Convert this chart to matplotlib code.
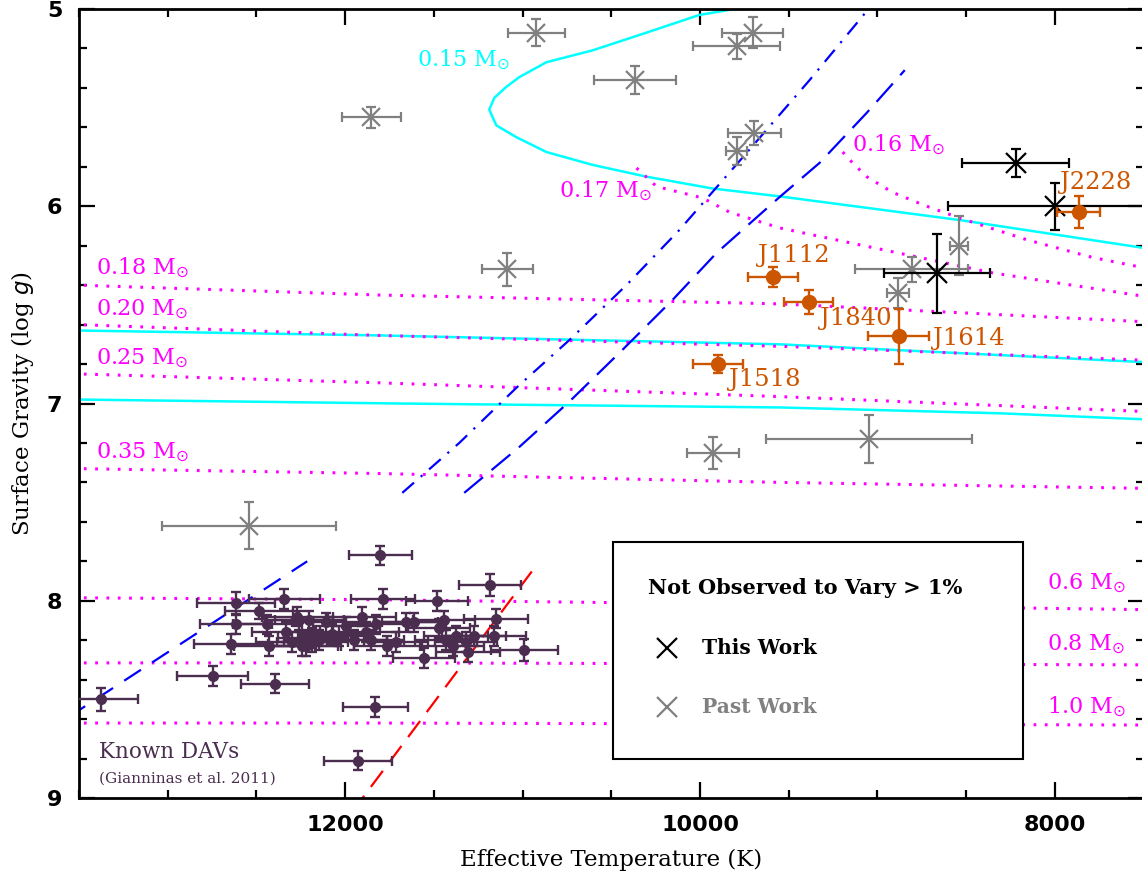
import matplotlib
matplotlib.use("Agg")
import matplotlib.pyplot as plt
from matplotlib.patches import Rectangle
from matplotlib.ticker import MultipleLocator

# ---- data ----
# known DAVs (Gianninas et al. 2011)
dav_teff = [13377, 12745, 12395, 12615, 12485, 12344, 12615, 12643, 12271, 12440,
            12429, 12333, 12300, 12220, 12186, 11803, 11182, 11786, 11481, 11148,
            10990, 11554, 11306, 11831, 11927, 11272, 11441, 11470, 11611, 11904,
            11763, 11712, 11430, 11374, 11318, 11994, 12107, 12203, 12260, 11949,
            12073, 12186, 11882, 11825, 11656, 12243, 12147, 12034, 11853, 11391, 11160]
dav_logg = [8.50, 8.38, 8.42, 8.01, 8.05, 7.99, 8.12, 8.22, 8.08, 8.12,
            8.23, 8.16, 8.21, 8.23, 8.19, 7.77, 7.92, 7.99, 8.00, 8.09,
            8.25, 8.29, 8.26, 8.54, 8.81, 8.18, 8.10, 8.14, 8.11, 8.08,
            8.23, 8.21, 8.20, 8.18, 8.21, 8.13, 8.11, 8.10, 8.10, 8.20,
            8.17, 8.21, 8.16, 8.12, 8.11, 8.23, 8.20, 8.18, 8.20, 8.23, 8.18]
dav_teff_err = [210, 200, 190, 220, 190, 200, 205, 210, 200, 195,
                200, 190, 200, 195, 190, 178, 175, 181, 175, 180,
                190, 175, 180, 183, 190, 180, 175, 175, 180, 190,
                185, 180, 175, 180, 175, 190, 195, 195, 190, 185,
                195, 200, 185, 185, 180, 200, 195, 190, 185, 175, 180]
dav_logg_err = [0.06, 0.05, 0.05, 0.055, 0.04, 0.05, 0.05, 0.05, 0.05, 0.05,
                0.05, 0.05, 0.05, 0.05, 0.05, 0.05, 0.055, 0.05, 0.05, 0.05,
                0.055, 0.05, 0.05, 0.05, 0.05, 0.05, 0.05, 0.05, 0.05, 0.05,
                0.05, 0.05, 0.05, 0.05, 0.05, 0.05, 0.05, 0.05, 0.05, 0.05,
                0.05, 0.05, 0.05, 0.05, 0.05, 0.05, 0.05, 0.05, 0.05, 0.05, 0.05]

# past work (not observed to vary)
past_teff = [11853, 10922, 10364, 9704, 9794, 9693, 9794, 11086, 12542, 9929, 9049, 8542, 8807, 8886]
past_logg = [5.55, 5.12, 5.36, 5.12, 5.19, 5.63, 5.72, 6.32, 7.62, 7.25, 7.18, 6.20, 6.32, 6.44]
past_teff_err = [166, 163, 231, 170, 245, 152, 60, 144, 490, 147, 581, 50, 320, 62]
past_logg_err = [0.053, 0.07, 0.07, 0.08, 0.065, 0.06, 0.07, 0.084, 0.12, 0.08, 0.12, 0.15, 0.065, 0.075]

# this work (not observed to vary)
this_teff = [8220, 8000, 8666]
this_logg = [5.78, 6.00, 6.34]
this_teff_err = [302, 600, 299]
this_logg_err = [0.07, 0.12, 0.20]

# new pulsators
new_names = ["J2228", "J1112", "J1840", "J1614", "J1518"]
new_teff = [7865, 9591, 9388, 8880, 9901]
new_logg = [6.03, 6.36, 6.485, 6.66, 6.80]
new_teff_err = [121, 141, 138, 172, 141]
new_logg_err = [0.08, 0.05, 0.06, 0.14, 0.045]
new_label_teff = [7972, 9676, 9326, 8688, 9834]
new_label_logg = [5.88, 6.25, 6.57, 6.67, 6.88]

# cyan cooling tracks
trk015_teff = [9805, 10003, 10302, 10607, 10866, 11018, 11092, 11159, 11188, 11148,
               11035, 10866, 10607, 10302, 9929, 9551, 8536, 7509, 7400]
trk015_logg = [5.00, 5.03, 5.12, 5.21, 5.27, 5.345, 5.395, 5.45, 5.51, 5.59,
               5.65, 5.725, 5.79, 5.85, 5.91, 5.95, 6.07, 6.21, 6.22]
trk_a_teff = [13600, 13500, 11800, 9550, 8300, 7500, 7400]
trk_a_logg = [6.63, 6.63, 6.655, 6.70, 6.755, 6.79, 6.795]
trk_b_teff = [13600, 13500, 11700, 9550, 8300, 7500, 7400]
trk_b_logg = [6.975, 6.98, 7.00, 7.02, 7.05, 7.08, 7.085]

# magenta dotted tracks
trk016_teff = [9196, 9140, 9061, 8914, 8722, 8536, 8158, 7786, 7509, 7400]
trk016_logg = [5.725, 5.78, 5.85, 5.93, 6.00, 6.06, 6.17, 6.26, 6.31, 6.32]
trk017_teff = [10358, 10245, 9986, 9834, 9551, 8350, 7509, 7400]
trk017_logg = [5.806, 5.90, 5.958, 6.03, 6.11, 6.338, 6.455, 6.47]
flat_teff = [13600, 13506, 11808, 9551, 7509, 7400]
trk018_logg = [6.395, 6.40, 6.45, 6.495, 6.585, 6.59]
trk020_logg = [6.595, 6.60, 6.655, 6.71, 6.78, 6.785]
trk025_logg = [6.845, 6.85, 6.895, 6.965, 7.04, 7.045]
trk035_logg = [7.325, 7.33, 7.355, 7.40, 7.43, 7.435]
trk06_logg = [7.985, 7.985, 7.995, 8.02, 8.045, 8.045]
trk08_logg = [8.315, 8.315, 8.315, 8.32, 8.325, 8.325]
trk10_logg = [8.62, 8.62, 8.62, 8.625, 8.63, 8.63]

mass_labels = ["0.15", "0.16", "0.17", "0.18", "0.20", "0.25", "0.35", "0.6", "0.8", "1.0"]
mass_label_teff = [11594, 9145, 10793, 13405, 13405, 13405, 13405, 8045, 8045, 8045]
mass_label_logg = [5.26, 5.69, 5.92, 6.31, 6.525, 6.77, 7.25, 7.91, 8.22, 8.54]
mass_label_color = ["cyan"] + ["magenta"] * 9

# instability strip boundaries
dashdot_teff = [11678, 11357, 11030, 10736, 10415, 10116, 9738, 9382, 9055]
dashdot_logg = [7.453, 7.20, 6.916, 6.678, 6.40, 6.12, 5.73, 5.36, 5.005]
longdash_teff = [11329, 11018, 10736, 10454, 10155, 9907, 9551, 9326, 9061, 8846]
longdash_logg = [7.453, 7.22, 6.99, 6.743, 6.475, 6.237, 5.953, 5.78, 5.527, 5.31]
blue_edge_teff = [13560, 12214]
blue_edge_logg = [8.59, 7.80]
red_edge_teff = [11960, 10922]
red_edge_logg = [9.07, 7.82]

PURPLE = "#4b2d50"
ORANGE = "#cc5500"
GRAY = "#808080"
SERIF = "DejaVu Serif"

fig = plt.figure(figsize=(11.42, 8.73), dpi=100)
ax = fig.add_axes([0.0692, 0.0859, 0.9322, 0.9038])

# tracks
ax.plot(trk015_teff, trk015_logg, color="cyan", lw=1.8, zorder=2)
ax.plot(trk_a_teff, trk_a_logg, color="cyan", lw=1.8, zorder=2)
ax.plot(trk_b_teff, trk_b_logg, color="cyan", lw=1.8, zorder=2)

dots = (0, (0.9, 2.8))
for lg in [trk018_logg, trk020_logg, trk025_logg, trk035_logg, trk06_logg, trk08_logg, trk10_logg]:
    ax.plot(flat_teff, lg, color="magenta", lw=2.2, ls=dots, zorder=2)
ax.plot(trk016_teff, trk016_logg, color="magenta", lw=2.2, ls=dots, zorder=2)
ax.plot(trk017_teff, trk017_logg, color="magenta", lw=2.2, ls=dots, zorder=2)

ax.plot(dashdot_teff, dashdot_logg, color="blue", lw=1.6, ls=(0, (7, 4, 1, 4)), zorder=2)
ax.plot(longdash_teff, longdash_logg, color="blue", lw=1.6, ls=(0, (11, 5)), zorder=2)
ax.plot(blue_edge_teff, blue_edge_logg, color="blue", lw=1.6, ls=(0, (9, 6)), zorder=2)
ax.plot(red_edge_teff, red_edge_logg, color="red", lw=1.6, ls=(0, (9, 5)), zorder=2)

# data points
ax.errorbar(dav_teff, dav_logg, xerr=dav_teff_err, yerr=dav_logg_err, fmt="o",
            color=PURPLE, ms=7, elinewidth=1.7, capsize=3.5, capthick=1.7, zorder=3)
ax.errorbar(past_teff, past_logg, xerr=past_teff_err, yerr=past_logg_err, fmt="x",
            color=GRAY, ms=13, mew=1.6, elinewidth=1.6, capsize=3.5, capthick=1.6, zorder=3)
ax.errorbar(this_teff, this_logg, xerr=this_teff_err, yerr=this_logg_err, fmt="x",
            color="black", ms=14, mew=1.6, elinewidth=1.6, capsize=3.5, capthick=1.6, zorder=4)
ax.errorbar(new_teff, new_logg, xerr=new_teff_err, yerr=new_logg_err, fmt="o",
            color=ORANGE, ms=10, elinewidth=1.7, capsize=3.5, capthick=1.7, zorder=5)

for name, t, g in zip(new_names, new_label_teff, new_label_logg):
    ax.text(t, g, name, color=ORANGE, fontsize=17.5, family=SERIF, ha="left", va="center", zorder=6)

for lab, t, g, c in zip(mass_labels, mass_label_teff, mass_label_logg, mass_label_color):
    ax.text(t, g, lab + r" M$_{\odot}$", color=c, fontsize=16, family=SERIF,
            ha="left", va="center", zorder=6)

ax.text(0.019, 0.058, "Known DAVs", transform=ax.transAxes, color=PURPLE,
        fontsize=15.5, family=SERIF, ha="left", va="center")
ax.text(0.019, 0.024, "(Gianninas et al. 2011)", transform=ax.transAxes, color=PURPLE,
        fontsize=11, family=SERIF, ha="left", va="center")

# legend box
ax.add_patch(Rectangle((0.5014, 0.0494), 0.3856, 0.2751, transform=ax.transAxes,
                       facecolor="white", edgecolor="black", lw=1.5, zorder=7))
ax.text(0.534, 0.266, "Not Observed to Vary > 1%", transform=ax.transAxes,
        fontsize=15, family=SERIF, fontweight="bold", ha="left", va="center", zorder=8)
ax.plot([0.552], [0.190], marker="x", ms=14, mew=1.6, color="black",
        transform=ax.transAxes, zorder=8)
ax.text(0.585, 0.190, "This Work", transform=ax.transAxes, fontsize=14.5,
        family=SERIF, fontweight="bold", ha="left", va="center", zorder=8)
ax.plot([0.552], [0.115], marker="x", ms=14, mew=1.6, color=GRAY,
        transform=ax.transAxes, zorder=8)
ax.text(0.585, 0.115, "Past Work", transform=ax.transAxes, fontsize=14.5, color=GRAY,
        family=SERIF, fontweight="bold", ha="left", va="center", zorder=8)

# axes
ax.set_xlim(13500, 7500)
ax.set_ylim(9, 5)
ax.xaxis.set_major_locator(MultipleLocator(2000))
ax.xaxis.set_minor_locator(MultipleLocator(500))
ax.yaxis.set_major_locator(MultipleLocator(1))
ax.yaxis.set_minor_locator(MultipleLocator(0.2))
ax.tick_params(which="both", direction="in", top=True, right=True, width=1.6)
ax.tick_params(which="major", length=11.5, labelsize=16, pad=12)
ax.tick_params(which="minor", length=6)
for lab in ax.get_xticklabels() + ax.get_yticklabels():
    lab.set_fontweight("bold")
for sp in ax.spines.values():
    sp.set_linewidth(2)

ax.set_xlabel("Effective Temperature (K)", fontsize=16.5, family=SERIF, labelpad=10)
ax.set_ylabel(r"Surface Gravity (log $\mathit{g}$)", fontsize=16.5, family=SERIF, labelpad=8)

fig.savefig("out.png", dpi=100)
